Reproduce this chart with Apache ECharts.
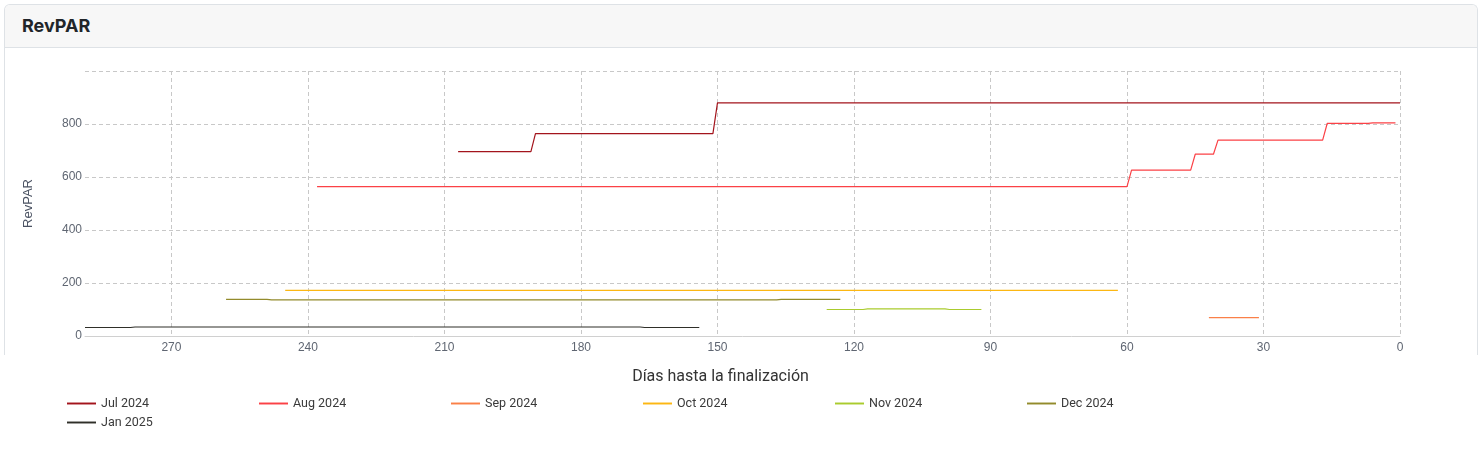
<!DOCTYPE html>
<html>
<head>
<meta charset="utf-8">
<script src="https://cdn.jsdelivr.net/npm/echarts@6/dist/echarts.min.js"></script>
<style>
  html, body { margin:0; padding:0; width:1481px; height:450px; overflow:hidden; background:#fff; }
  .card { position:absolute; left:4px; top:4px; width:1474px; height:351px; box-sizing:border-box;
          border:1px solid #dee2e6; border-bottom:none; border-radius:6px 6px 0 0; overflow:hidden; }
  .hdr { height:42px; line-height:42px; background:#f7f7f7; border-bottom:1px solid #dee2e6;
         padding-left:17px; font-family:Inter, "Noto Sans", sans-serif; font-weight:700; font-size:18px; color:#212529; }
  #chart { position:absolute; left:0; top:0; width:1481px; height:450px; }
</style>
</head>
<body>
<div class="card"><div class="hdr">RevPAR</div></div>
<div id="chart"></div>
<script>
// ---- data (days until end, RevPAR) ----
const seriesNames = ['Jul 2024', 'Aug 2024', 'Sep 2024', 'Oct 2024', 'Nov 2024', 'Dec 2024', 'Jan 2025'];
const jul2024 = [[207, 696], [191, 696], [190, 764], [151, 764], [150, 880], [0, 880]];
const aug2024 = [[238, 564], [60, 564], [59, 626], [46, 626], [45, 686], [41, 686], [40, 739], [17, 739], [16, 802], [7, 802], [6, 804], [1, 804]];
const sep2024 = [[42, 69], [31, 69]];
const oct2024 = [[245, 172], [62, 172]];
const nov2024 = [[126, 100], [118, 100], [117, 102], [100, 102], [99, 100], [92, 100]];
const dec2024 = [[258, 138], [249, 138], [248, 136], [137, 136], [136, 138], [123, 138]];
const jan2025 = [[289, 32], [279, 32], [278, 34], [167, 34], [166, 32], [154, 32]];
const seriesData = [jul2024, aug2024, sep2024, oct2024, nov2024, dec2024, jan2025];
const yTicks = [0, 200, 400, 600, 800, 1000];
const xTickStep = 30;

// ---- styles / layout ----
const colors = ['#a3141c', '#fb4146', '#fa8048', '#fcb713', '#aacb2e', '#938b2c', '#2f2f29'];
const legendPerRow = 6, legendLeft = 67, legendStep = 192, legendTop = 397, legendRowStep = 19;

const legends = seriesNames.map((n, i) => ({
  data: [n],
  left: legendLeft + legendStep * (i % legendPerRow),
  top: legendTop + legendRowStep * Math.floor(i / legendPerRow),
  padding: 0,
  icon: 'path://M0,0H30V2H0Z',
  itemWidth: 29, itemHeight: 13, itemGap: 6,
  textStyle: { fontFamily: 'Roboto', fontSize: 12.5, color: '#3a3a3a' }
}));

const chart = echarts.init(document.getElementById('chart'), null, { renderer: 'canvas' });
chart.setOption({
  animation: false,
  backgroundColor: 'transparent',
  color: colors,
  grid: { left: 85, top: 71, width: 1315, height: 265, containLabel: false },
  legend: legends,
  xAxis: {
    type: 'value',
    inverse: true,
    min: 0, max: 'dataMax', interval: xTickStep,
    name: 'Días hasta la finalización',
    nameLocation: 'middle', nameGap: 33,
    nameTextStyle: { fontFamily: 'Roboto', fontSize: 16, color: '#333', padding: [0, 44, 0, 0] },
    axisLine: { show: true, lineStyle: { color: '#d0d0d0', width: 1 } },
    axisTick: { show: false },
    axisLabel: { margin: 6, fontFamily: 'Liberation Sans', fontSize: 12, color: '#5f6672', showMaxLabel: false },
    splitLine: { show: true, showMaxLine: false, lineStyle: { color: '#c8c8c8', type: [4, 3], width: 1 } }
  },
  yAxis: {
    type: 'value',
    min: yTicks[0], max: yTicks[yTicks.length - 1], interval: yTicks[1] - yTicks[0],
    name: 'RevPAR',
    nameLocation: 'middle', nameGap: 50, nameRotate: 90,
    nameTextStyle: { fontFamily: 'Liberation Sans', fontSize: 13, color: '#4a5262' },
    axisLine: { show: false },
    axisTick: { show: false },
    axisLabel: { margin: 3, fontFamily: 'Liberation Sans', fontSize: 12, color: '#5f6672', showMaxLabel: false },
    splitLine: { show: true, lineStyle: { color: '#c8c8c8', type: [4, 3], width: 1 } }
  },
  series: seriesNames.map((n, i) => ({
    name: n,
    type: 'line',
    data: seriesData[i],
    symbol: 'none',
    showSymbol: false,
    lineStyle: { width: 1.2, color: colors[i] },
    itemStyle: { color: colors[i] }
  }))
});
</script>
</body>
</html>
